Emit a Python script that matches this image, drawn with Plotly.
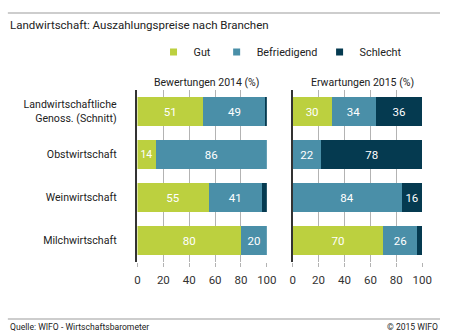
import plotly.graph_objects as go

categories = ["Landwirtschaftliche<br>Genoss. (Schnitt)", "Obstwirtschaft", "Weinwirtschaft", "Milchwirtschaft"]
series_names = ["Gut", "Befriedigend", "Schlecht"]
colors = ["#bcd03f", "#4a8fa8", "#053a50"]

gut_2014 = [50.6, 14, 55, 80]
befr_2014 = [48.9, 86, 41, 20]
schlecht_2014 = [0.5, 0, 4, 0]

gut_2015 = [30, 0, 0, 70]
befr_2015 = [34, 22, 84, 26]
schlecht_2015 = [36, 78, 16, 4]

x_ticks = [0, 20, 40, 60, 80, 100]

TXT = "Roboto, sans-serif"
NUM = "Roboto, sans-serif"

def labels(vals):
    return [f"{round(v)}" if v >= 5 else "" for v in vals]

fig = go.Figure()
panels = [("x", "y", [gut_2014, befr_2014, schlecht_2014]),
          ("x2", "y2", [gut_2015, befr_2015, schlecht_2015])]
for xa, ya, vals_list in panels:
    for name, col, vals in zip(series_names, colors, vals_list):
        fig.add_trace(go.Bar(
            y=categories, x=vals, orientation="h", name=name,
            marker=dict(color=col, line=dict(width=0)),
            text=labels(vals), textposition="inside", insidetextanchor="middle",
            textfont=dict(color="white", size=11.5, family=NUM),
            showlegend=False, xaxis=xa, yaxis=ya, hoverinfo="skip",
        ))

# legend markers
for i, (name, col) in enumerate(zip(series_names, colors)):
    fig.add_trace(go.Scatter(
        x=[None], y=[None], mode="markers", name=name,
        marker=dict(symbol="square", size=7, color=col),
        legend="legend" if i == 0 else f"legend{i+1}",
        showlegend=True,
    ))

W, H = 450, 333
def px(v):
    return v / W
def py(v):
    return (H - v) / H

axis_common = dict(
    range=[0, 100], tickvals=x_ticks, showgrid=True, gridcolor="#b3b3b3", gridwidth=1,
    zeroline=False, ticks="outside", ticklen=4, tickcolor="#b3b3b3", ticklabelstandoff=3,
    tickfont=dict(size=11.5, color="#333", family=NUM), fixedrange=True,
)
leg_common = dict(orientation="h", bgcolor="rgba(0,0,0,0)", font=dict(size=10.8, color="#222", family=TXT),
                  yanchor="middle", xanchor="left", itemwidth=30, tracegroupgap=0)

fig.update_layout(
    width=W, height=H, margin=dict(l=0, r=0, t=0, b=0),
    paper_bgcolor="white", plot_bgcolor="white",
    barmode="stack", bargap=0.33,
    font=dict(family=TXT, color="#222"),
    xaxis=dict(domain=[px(138.5), px(271.7)], anchor="y", **axis_common),
    xaxis2=dict(domain=[px(298.3), px(431.7)], anchor="y2", **axis_common),
    yaxis=dict(domain=[py(262), py(90)], anchor="x", autorange="reversed",
               showline=True, linecolor="#333", linewidth=1.5, ticks="",
               ticklabelstandoff=17, tickfont=dict(size=10.6, color="#222", family=TXT),
               fixedrange=True),
    yaxis2=dict(domain=[py(262), py(90)], anchor="x2", autorange="reversed",
                showline=True, linecolor="#333", linewidth=1.5, showticklabels=False,
                matches="y", fixedrange=True),
    legend=dict(x=px(155), y=py(52), **leg_common),
    legend2=dict(x=px(220), y=py(52), **leg_common),
    legend3=dict(x=px(326), y=py(52), **leg_common),
    shapes=[
        dict(type="line", xref="paper", yref="paper", x0=px(5), x1=1, y0=py(13), y1=py(13),
             line=dict(color="#bdbdbd", width=1.5)),
        dict(type="line", xref="paper", yref="paper", x0=px(5), x1=1, y0=py(319), y1=py(319),
             line=dict(color="#bdbdbd", width=1.5)),
    ],
    annotations=[
        dict(text="Landwirtschaft: Auszahlungspreise nach Branchen", x=px(5), y=py(25),
             xref="paper", yref="paper", xanchor="left", yanchor="middle", showarrow=False,
             font=dict(size=11.5, color="#222", family=TXT)),
        dict(text="Bewertungen 2014 (%)", x=px(210), y=py(82), xref="paper", yref="paper",
             xanchor="center", yanchor="middle", showarrow=False, font=dict(size=10.5, color="#222", family=TXT)),
        dict(text="Erwartungen 2015 (%)", x=px(370), y=py(82), xref="paper", yref="paper",
             xanchor="center", yanchor="middle", showarrow=False, font=dict(size=10.5, color="#222", family=TXT)),
        dict(text="Quelle: WIFO - Wirtschaftsbarometer", x=px(5), y=py(327), xref="paper", yref="paper",
             xanchor="left", yanchor="middle", showarrow=False, font=dict(size=8.6, color="#222", family=TXT)),
        dict(text="© 2015 WIFO", x=1, y=py(327), xref="paper", yref="paper",
             xanchor="right", yanchor="middle", showarrow=False, font=dict(size=8.6, color="#222", family=TXT)),
    ],
)

fig.write_html("out.html")
